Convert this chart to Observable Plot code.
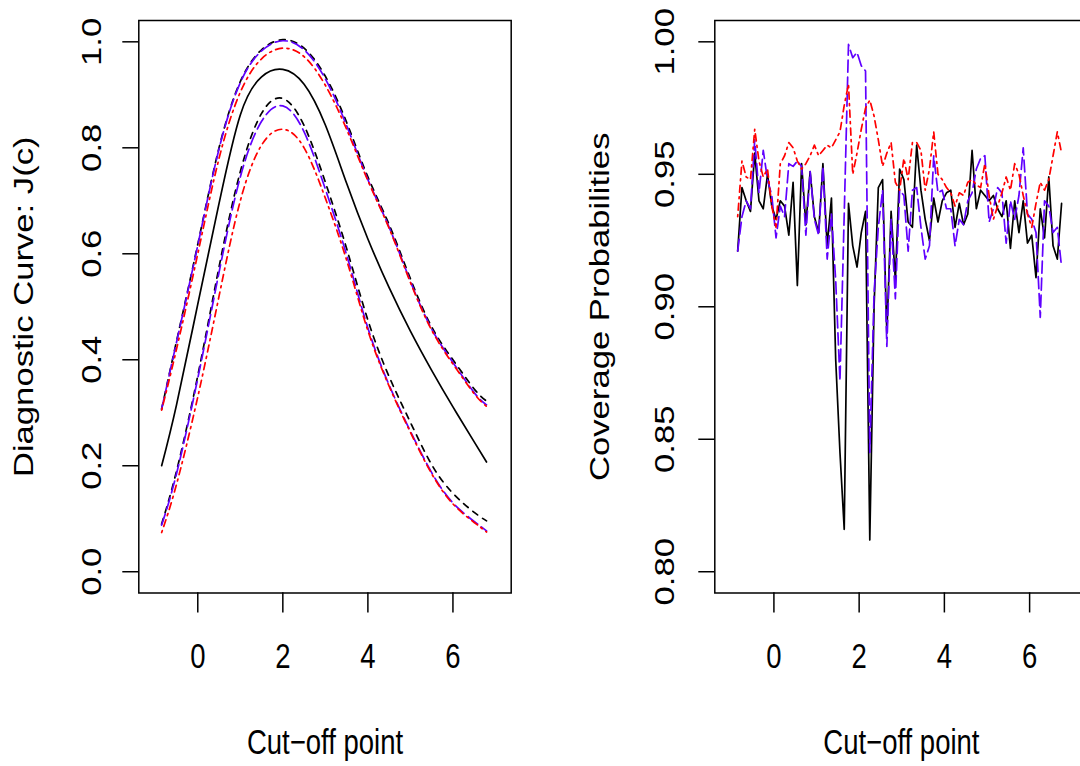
<!DOCTYPE html>
<html>
<head>
<meta charset="utf-8">
<script src="https://cdn.jsdelivr.net/npm/d3@7"></script>
<script src="https://cdn.jsdelivr.net/npm/@observablehq/plot@0.6"></script>
<style>
  html, body { margin: 0; padding: 0; background: #fff; overflow: hidden; }
  #wrap { position: relative; width: 1080px; height: 766px; overflow: hidden; background: #fff; }
  #wrap svg { position: absolute; top: 0; max-width: none; }
  svg.panel path, svg.panel line, svg.panel rect { vector-effect: non-scaling-stroke; }
</style>
</head>
<body>
<div id="wrap"></div>
<script>
// ---------- Left panel: diagnostic curve J(c) with bands ----------
const cut = [-0.85, -0.5, 0, 0.5, 1, 1.5, 2, 2.5, 3, 3.5, 4, 4.5, 5, 5.5, 6, 6.5, 6.79];
const jTrue      = [0.200, 0.315, 0.505, 0.695, 0.862, 0.934, 0.948, 0.920, 0.843, 0.733, 0.628, 0.536, 0.454, 0.380, 0.311, 0.245, 0.207];
const upperBlack = [0.307, 0.435, 0.618, 0.800, 0.925, 0.985, 1.004, 0.988, 0.935, 0.848, 0.745, 0.655, 0.553, 0.462, 0.400, 0.345, 0.322];
const upperBlue  = [0.307, 0.433, 0.616, 0.798, 0.923, 0.983, 1.002, 0.985, 0.930, 0.842, 0.740, 0.650, 0.548, 0.458, 0.395, 0.338, 0.315];
const upperRed   = [0.305, 0.420, 0.600, 0.780, 0.905, 0.968, 0.988, 0.972, 0.918, 0.835, 0.738, 0.648, 0.546, 0.456, 0.392, 0.336, 0.312];
const lowerBlack = [0.090, 0.190, 0.370, 0.575, 0.755, 0.865, 0.893, 0.842, 0.735, 0.610, 0.475, 0.368, 0.282, 0.202, 0.148, 0.112, 0.096];
const lowerBlue  = [0.088, 0.185, 0.365, 0.565, 0.745, 0.850, 0.879, 0.830, 0.722, 0.598, 0.460, 0.352, 0.265, 0.187, 0.130, 0.095, 0.077];
const lowerRed   = [0.074, 0.165, 0.330, 0.520, 0.700, 0.805, 0.835, 0.800, 0.705, 0.588, 0.455, 0.350, 0.263, 0.185, 0.128, 0.093, 0.075];

// ---------- Right panel: coverage probabilities ----------
const cutGrid = [-0.85,-0.75,-0.65,-0.55,-0.45,-0.35,-0.25,-0.15,-0.05,0.05,0.15,0.25,0.35,0.45,0.55,0.65,0.75,0.85,0.95,1.05,1.15,1.25,1.35,1.45,1.55,1.65,1.75,1.85,1.95,2.05,2.15,2.25,2.35,2.45,2.55,2.65,2.75,2.85,2.95,3.05,3.15,3.25,3.35,3.45,3.55,3.65,3.75,3.85,3.95,4.05,4.15,4.25,4.35,4.45,4.55,4.65,4.75,4.85,4.95,5.05,5.15,5.25,5.35,5.45,5.55,5.65,5.75,5.85,5.95,6.05,6.15,6.25,6.35,6.45,6.55,6.65,6.75];
const coverBlack = [0.921,0.945,0.940,0.936,0.958,0.940,0.937,0.950,0.938,0.933,0.940,0.938,0.927,0.947,0.908,0.954,0.931,0.951,0.934,0.928,0.954,0.923,0.941,0.880,0.845,0.816,0.939,0.923,0.915,0.928,0.936,0.812,0.900,0.945,0.948,0.890,0.936,0.910,0.952,0.948,0.932,0.930,0.961,0.944,0.933,0.925,0.941,0.932,0.940,0.943,0.944,0.930,0.939,0.931,0.935,0.959,0.937,0.944,0.942,0.940,0.942,0.937,0.934,0.940,0.922,0.940,0.928,0.940,0.924,0.927,0.911,0.937,0.926,0.949,0.923,0.918,0.939];
const coverBlue  = [0.921,0.934,0.940,0.937,0.963,0.943,0.959,0.948,0.942,0.926,0.938,0.934,0.954,0.953,0.955,0.953,0.927,0.951,0.933,0.927,0.953,0.918,0.935,0.910,0.872,0.935,0.999,0.994,0.996,0.991,0.989,0.845,0.905,0.930,0.944,0.885,0.933,0.903,0.944,0.942,0.921,0.944,0.945,0.930,0.918,0.923,0.957,0.943,0.944,0.937,0.937,0.923,0.933,0.931,0.940,0.943,0.952,0.956,0.957,0.932,0.937,0.945,0.943,0.924,0.940,0.933,0.942,0.960,0.935,0.933,0.928,0.896,0.940,0.938,0.928,0.930,0.915];
const coverRed   = [0.934,0.955,0.949,0.948,0.967,0.955,0.949,0.952,0.938,0.930,0.954,0.957,0.962,0.960,0.955,0.952,0.954,0.957,0.961,0.957,0.959,0.961,0.960,0.963,0.966,0.976,0.984,0.950,0.958,0.967,0.975,0.978,0.972,0.963,0.953,0.958,0.962,0.947,0.944,0.956,0.948,0.962,0.962,0.959,0.944,0.952,0.966,0.950,0.948,0.945,0.943,0.938,0.943,0.942,0.947,0.948,0.946,0.945,0.954,0.942,0.933,0.938,0.943,0.949,0.944,0.954,0.950,0.942,0.935,0.930,0.939,0.947,0.944,0.948,0.957,0.966,0.958];

// ---------- Ticks & labels ----------
const xTicks = [0, 2, 4, 6];
const yTicksLeft = [0, 0.2, 0.4, 0.6, 0.8, 1.0];
const yTicksRight = [0.80, 0.85, 0.90, 0.95, 1.00];
const xLabel = "Cut\u2212off point";
const yLabelLeft = "Diagnostic Curve: J(c)";
const yLabelRight = "Coverage Probabilities";

// ---------- styling ----------
const BLUE = "#6000ff", RED = "#ff0000", BLACK = "#000000";
const DASH_BLACK = "6,6", DASH_BLUE = "12,5", DASH_RED = "2,4.5,7,4.5";
const LW = 1.7;
const H = 608;                 // svg's own coordinate height; drawn stretched to 766px
const SCREEN_H = 766;
const FONT = {fontFamily: "'Liberation Sans', Arial, Helvetica, sans-serif", fontSize: "27.5px", background: "white", color: "black", overflow: "visible"};
const M_TOP = 15.87, M_BOTTOM = 137.87;

function panel({width, marginLeft, marginRight, yDomain, yTicks, yFmt, yLabel, tickDx, titleDx, lines}) {
  const svg = Plot.plot({
    width, height: H, marginLeft, marginRight, marginTop: M_TOP, marginBottom: M_BOTTOM,
    style: FONT,
    x: {domain: [-1.387, 7.37]},
    y: {domain: yDomain},
    marks: [
      ...lines,
      Plot.frame({stroke: BLACK, strokeWidth: 1.5}),
      Plot.axisX({ticks: xTicks, tickSize: 16, tickFormat: () => "", label: null, strokeWidth: 1.5}),
      Plot.axisY({ticks: yTicks, tickSize: 16, tickFormat: () => "", label: null, strokeWidth: 1.5}),
      Plot.text(xTicks, {x: d => d, text: d => String(d), frameAnchor: "bottom", lineAnchor: "bottom", textAnchor: "middle", dy: 59.7}),
      Plot.text(yTicks, {y: d => d, text: yFmt, frameAnchor: "left", rotate: -90, textAnchor: "middle", lineAnchor: "bottom", dx: tickDx}),
      Plot.text([xLabel], {text: d => d, frameAnchor: "bottom", textAnchor: "middle", lineAnchor: "bottom", dy: 127.6}),
      Plot.text([yLabel], {text: d => d, frameAnchor: "left", rotate: -90, textAnchor: "middle", lineAnchor: "bottom", dx: titleDx})
    ]
  });
  svg.classList.add("panel");
  svg.setAttribute("viewBox", `0 0 ${width} ${H}`);
  svg.setAttribute("preserveAspectRatio", "none");
  svg.setAttribute("height", SCREEN_H);
  svg.style.width = width + "px";
  svg.style.height = SCREEN_H + "px";
  svg.style.maxWidth = "none";
  return svg;
}

const leftLines = [
  [jTrue, BLACK, null],
  [upperBlack, BLACK, DASH_BLACK],
  [lowerBlack, BLACK, DASH_BLACK],
  [upperBlue, BLUE, DASH_BLUE],
  [lowerBlue, BLUE, DASH_BLUE],
  [upperRed, RED, DASH_RED],
  [lowerRed, RED, DASH_RED]
].map(([ys, color, dash]) => Plot.lineY(ys, {x: cut, y: ys, stroke: color, strokeWidth: LW, strokeDasharray: dash ?? undefined, curve: "natural"}));

const rightLines = [
  [coverBlack, BLACK, null],
  [coverBlue, BLUE, DASH_BLUE],
  [coverRed, RED, DASH_RED]
].map(([ys, color, dash]) => Plot.lineY(ys, {x: cutGrid, y: ys, stroke: color, strokeWidth: LW, strokeDasharray: dash ?? undefined}));

const wrap = document.getElementById("wrap");

const left = panel({
  width: 540, marginLeft: 138.3, marginRight: 29.3,
  yDomain: [-0.04, 1.04], yTicks: yTicksLeft, yFmt: d => d.toFixed(1),
  yLabel: yLabelLeft, tickDx: -38, titleDx: -105.5, lines: leftLines
});
left.style.left = "0px";
wrap.appendChild(left);

const right = panel({
  width: 540, marginLeft: 154.3, marginRight: 12.5,
  yDomain: [0.792, 1.008], yTicks: yTicksRight, yFmt: d => d.toFixed(2),
  yLabel: yLabelRight, tickDx: -40.5, titleDx: -106, lines: rightLines
});
right.style.left = "560px";
wrap.appendChild(right);
</script>
</body>
</html>
